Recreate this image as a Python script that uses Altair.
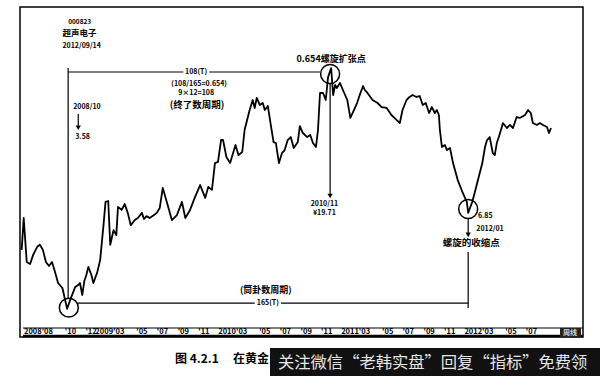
import altair as alt
import pandas as pd

# ---- price series (weekly-ish) ----
dates = [
    "2008-05-09", "2008-05-15", "2008-05-24", "2008-06-03", "2008-06-12", "2008-06-24",
    "2008-07-02", "2008-07-11", "2008-07-20", "2008-07-29", "2008-08-07", "2008-08-16",
    "2008-08-25", "2008-09-07", "2008-09-15", "2008-09-21", "2008-09-30", "2008-10-09",
    "2008-10-15", "2008-10-24", "2008-10-29", "2008-11-05", "2008-11-11", "2008-11-17",
    "2008-11-23", "2008-12-02", "2008-12-08", "2008-12-13", "2008-12-19", "2008-12-28",
    "2009-01-07", "2009-01-13", "2009-01-21", "2009-01-27", "2009-02-06", "2009-02-14",
    "2009-02-19", "2009-03-02", "2009-03-11", "2009-03-20", "2009-03-29", "2009-04-10",
    "2009-04-19", "2009-05-01", "2009-05-07", "2009-05-15", "2009-05-24", "2009-06-06",
    "2009-06-14", "2009-06-23", "2009-07-02", "2009-07-14", "2009-07-29", "2009-08-13",
    "2009-08-28", "2009-09-07", "2009-09-21", "2009-10-06", "2009-10-21", "2009-10-29",
    "2009-11-05", "2009-11-14", "2009-11-25", "2009-12-04", "2009-12-13", "2009-12-22",
    "2009-12-28", "2010-01-07", "2010-01-18", "2010-02-03", "2010-02-12", "2010-02-23",
    "2010-03-02", "2010-03-17", "2010-03-26", "2010-04-01", "2010-04-07", "2010-04-16",
    "2010-04-25", "2010-05-01", "2010-05-10", "2010-05-18", "2010-05-27", "2010-06-03",
    "2010-06-12", "2010-06-21", "2010-06-29", "2010-07-08", "2010-07-17", "2010-07-26",
    "2010-08-07", "2010-08-13", "2010-08-22", "2010-09-04", "2010-09-13", "2010-09-21",
    "2010-09-30", "2010-10-06", "2010-10-12", "2010-10-21", "2010-10-29", "2010-11-05",
    "2010-11-14", "2010-11-20", "2010-11-26", "2010-12-01", "2010-12-10", "2010-12-19",
    "2011-01-01", "2011-01-10", "2011-01-18", "2011-01-30", "2011-02-09", "2011-02-17",
    "2011-02-22", "2011-03-02", "2011-03-17", "2011-04-01", "2011-04-13", "2011-04-28",
    "2011-05-12", "2011-05-21", "2011-06-06", "2011-06-14", "2011-06-26", "2011-07-05",
    "2011-07-14", "2011-07-25", "2011-08-04", "2011-08-13", "2011-08-22", "2011-09-01",
    "2011-09-09", "2011-09-18", "2011-09-24", "2011-09-30", "2011-10-03", "2011-10-09",
    "2011-10-18", "2011-10-24", "2011-11-02", "2011-11-11", "2011-11-25", "2011-12-10",
    "2011-12-22", "2011-12-26", "2012-01-07", "2012-01-15", "2012-01-24", "2012-02-06",
    "2012-02-14", "2012-02-20", "2012-02-28", "2012-03-08", "2012-03-14", "2012-03-20",
    "2012-03-26", "2012-04-04", "2012-04-07", "2012-04-19", "2012-04-28", "2012-05-07",
    "2012-05-18", "2012-05-27", "2012-06-12", "2012-06-21", "2012-06-29", "2012-07-05",
    "2012-07-17", "2012-07-26", "2012-08-04", "2012-08-16", "2012-08-22", "2012-08-28",
]
prices = [
    5.47, 6.85, 5.02, 4.95, 5.28, 5.59,
    5.67, 5.47, 5.02, 4.88, 5.02, 4.68,
    4.33, 4.18, 3.84, 3.61, 3.84, 4.06,
    4.21, 4.27, 4.33, 3.98, 4.39, 4.58,
    4.85, 4.58, 4.33, 4.48, 4.65, 5.09,
    6.51, 7.67, 7.72, 5.67, 6.29, 6.07,
    7.41, 7.25, 7.56, 7.10, 6.51, 6.75,
    6.85, 7.10, 6.80, 6.94, 6.85, 6.99,
    7.10, 7.35, 8.47, 7.67, 6.75, 6.99,
    7.67, 6.85, 7.25, 7.95, 8.64, 8.23,
    7.89, 8.53, 8.35, 10.09, 10.17, 11.87,
    11.87, 10.53, 10.09, 11.46, 10.67, 10.91,
    12.74, 14.67, 15.74, 14.88, 15.97, 15.20,
    15.41, 14.67, 15.09, 13.38, 11.70, 11.62,
    10.09, 10.83, 11.06, 11.87, 12.12, 11.22,
    11.70, 13.10, 12.47, 12.12, 12.30, 11.62,
    11.30, 12.74, 16.54, 16.54, 15.74, 18.52,
    19.71, 16.30, 17.50, 17.13, 17.75, 16.89,
    15.74, 13.87, 14.46, 15.41, 16.54, 17.37,
    16.89, 16.54, 15.74, 15.41, 14.98, 14.88,
    14.16, 13.87, 13.38, 14.67, 15.74, 16.08,
    16.30, 16.08, 16.19, 15.20, 15.41, 14.36,
    14.98, 14.36, 14.67, 14.16, 12.74, 11.30,
    11.46, 11.06, 11.22, 10.09, 8.95, 8.17,
    7.67, 7.10, 7.67, 8.23, 8.95, 10.09,
    11.30, 11.87, 12.12, 10.83, 10.67, 11.62,
    12.12, 13.01, 13.38, 12.92, 13.20, 12.92,
    13.96, 13.87, 14.16, 14.67, 14.36, 13.38,
    13.20, 13.38, 13.20, 13.01, 12.47, 12.92,
]

# ---- time-axis labels ----
tick_dates = [
    "2008-08-01", "2008-10-01", "2008-12-01", "2009-03-01", "2009-05-01", "2009-07-01",
    "2009-09-01", "2009-11-01", "2010-03-01", "2010-05-01", "2010-07-01", "2010-09-01",
    "2010-11-01", "2011-03-01", "2011-05-01", "2011-07-01", "2011-09-01", "2011-11-01",
    "2012-03-01", "2012-05-01", "2012-07-01",
]
tick_labels = [
    "2008'08", "'10", "'12", "2009'03", "'05", "'07",
    "'09", "'11", "2010'03", "'05", "'07", "'09",
    "'11", "2011'03", "'05", "'07", "'09", "'11",
    "2012'03", "'05", "'07",
]

# ---- annotation anchors (date, price level) ----
rule_start = ["2008-09-24", "2009-11-17", "2008-09-24", "2008-10-24", "2010-11-11",
              "2008-10-21", "2010-06-18", "2011-12-26", "2011-12-26"]
rule_end = ["2009-09-01", "2010-10-12", "2008-09-24", "2008-10-24", "2010-11-11",
            "2010-04-01", "2011-12-26", "2011-12-26", "2011-12-26"]
rule_p1 = [19.18, 19.18, 19.71, 14.26, 17.62, 3.76, 3.76, 6.85, 5.39]
rule_p2 = [19.18, 19.18, 3.87, 12.95, 8.00, 3.76, 3.76, 6.08, 3.63]

circle_dates = ["2008-09-26", "2010-11-11", "2011-12-26"]
circle_prices = [3.64, 18.91, 7.30]

arrow_dates = ["2008-10-24", "2010-11-11", "2011-12-26"]
arrow_prices = [12.95, 8.00, 6.08]

left_texts = ["000823", "超声电子", "2012/09/14", "2008/10", "3.58", "6.85", "2012/01"]
left_dates = ["2008-09-24", "2008-09-07", "2008-09-07", "2008-10-09", "2008-10-15",
              "2012-01-24", "2012-01-19"]
left_prices = [27.30, 25.25, 23.10, 14.98, 12.12, 6.94, 6.34]
left_sizes = [6.5, 8.5, 7, 7, 7, 7, 7]

center_texts = ["108(T)", "(108/165=0.654)", "9×12=108", "(终了数周期)", "0.654螺旋扩张点",
                "2010/11", "¥19.71", "螺旋的收缩点", "(筒卦数周期)", "165(T)"]
center_dates = ["2009-10-09", "2009-10-18", "2009-10-09", "2009-10-12", "2010-11-14",
                "2010-10-25", "2010-10-25", "2012-01-04", "2010-05-04", "2010-05-10"]
center_prices = [19.18, 17.62, 16.54, 15.20, 21.02, 7.56, 7.10, 5.74, 4.11, 3.76]
center_sizes = [7, 7, 7, 9.5, 9, 7, 7, 9.5, 9, 7]

caption_parts = ["图 4.2.1", "在黄金"]
watermark = "关注微信“老韩实盘”回复“指标”免费领"
period_label = "周线"

# ---- scales ----
W, H = 563, 330
FONT = "Noto Sans CJK SC"
xs = alt.Scale(type="utc", domain=[alt.DateTime(year=2008, month=5, date=4, utc=True),
                                   alt.DateTime(year=2012, month=12, date=1, utc=True)])
ys = alt.Scale(type="log", domain=[2.959, 30.33])
X = lambda f: alt.X(f, type="temporal", scale=xs, axis=None)
Y = lambda f: alt.Y(f, type="quantitative", scale=ys, axis=None)

series = pd.DataFrame({"date": dates, "price": prices})
line = alt.Chart(series).mark_line(color="black", strokeWidth=1.8, strokeJoin="round").encode(
    x=X("date"), y=Y("price"))

rules_df = pd.DataFrame({"d1": rule_start, "d2": rule_end, "p1": rule_p1, "p2": rule_p2})
rules = alt.Chart(rules_df).mark_rule(color="black", strokeWidth=1.2).encode(
    x=X("d1"), x2="d2:T", y=Y("p1"), y2="p2:Q")

circ_df = pd.DataFrame({"date": circle_dates, "price": circle_prices})
circles = alt.Chart(circ_df).mark_point(shape="circle", filled=False, color="black",
                                        strokeWidth=1.5, size=360, opacity=1).encode(
    x=X("date"), y=Y("price"))

arr_df = pd.DataFrame({"date": arrow_dates, "price": arrow_prices})
arrows = alt.Chart(arr_df).mark_point(shape="triangle-down", filled=True, color="black",
                                      size=28, opacity=1).encode(x=X("date"), y=Y("price"))

lt_df = pd.DataFrame({"t": left_texts, "date": left_dates, "price": left_prices, "fs": left_sizes})
ltext = alt.Chart(lt_df).mark_text(align="left", baseline="middle", font=FONT,
                                   fontWeight="bold", color="black").encode(
    x=X("date"), y=Y("price"), text="t:N", size=alt.Size("fs:Q", scale=None, legend=None))

ct_df = pd.DataFrame({"t": center_texts, "date": center_dates, "price": center_prices,
                      "fs": center_sizes})
ctext = alt.Chart(ct_df).mark_text(align="center", baseline="middle", font=FONT,
                                   fontWeight="bold", color="black").encode(
    x=X("date"), y=Y("price"), text="t:N", size=alt.Size("fs:Q", scale=None, legend=None))

# time-axis band
ticks_df = pd.DataFrame({"date": tick_dates, "label": tick_labels})
ticks_df["long"] = ticks_df["label"].str.len() > 4
short_lab = alt.Chart(ticks_df[~ticks_df["long"]]).mark_text(
    align="center", baseline="middle", font=FONT, fontWeight="bold", fontSize=7.5,
    color="black").encode(x=X("date"), y=alt.value(325), text="label:N")
long_lab = alt.Chart(ticks_df[ticks_df["long"]]).mark_text(
    align="right", baseline="middle", dx=3, font=FONT, fontWeight="bold", fontSize=7.5,
    color="black").encode(x=X("date"), y=alt.value(325), text="label:N")
one = pd.DataFrame({"k": [0]})
band_top = alt.Chart(one).mark_rule(color="black", strokeWidth=1).encode(
    x=alt.value(3), x2=alt.value(W), y=alt.value(321))
band_bot = alt.Chart(one).mark_rule(color="black", strokeWidth=2.5).encode(
    x=alt.value(3), x2=alt.value(W), y=alt.value(329))
per_box = alt.Chart(one).mark_rect(color="#222").encode(
    x=alt.value(540), x2=alt.value(561), y=alt.value(321), y2=alt.value(330))
per_txt = alt.Chart(pd.DataFrame({"t": [period_label]})).mark_text(
    align="center", baseline="middle", font=FONT, fontSize=7, fontWeight="bold",
    color="#dddddd").encode(x=alt.value(550), y=alt.value(325.5), text="t:N")

# caption and overlay strip
cap1 = alt.Chart(pd.DataFrame({"t": [caption_parts[0]]})).mark_text(
    align="left", baseline="middle", font=FONT, fontSize=12, fontWeight="bold",
    color="black").encode(x=alt.value(155), y=alt.value(352), text="t:N")
cap2 = alt.Chart(pd.DataFrame({"t": [caption_parts[1]]})).mark_text(
    align="left", baseline="middle", font=FONT, fontSize=12, fontWeight="bold",
    color="black").encode(x=alt.value(213), y=alt.value(352), text="t:N")
wm_rect = alt.Chart(one).mark_rect(color="#111111").encode(
    x=alt.value(250), x2=alt.value(580), y=alt.value(341), y2=alt.value(369))
wm_text = alt.Chart(pd.DataFrame({"t": [watermark]})).mark_text(
    align="left", baseline="middle", font=FONT, fontSize=16.3, color="#e6e6e6").encode(
    x=alt.value(258), y=alt.value(356), text="t:N")

chart = alt.layer(
    line, rules, circles, arrows, ltext, ctext,
    band_top, band_bot, short_lab, long_lab, per_box, per_txt,
    cap1, cap2, wm_rect, wm_text,
).properties(
    width=W, height=H,
    padding={"left": 20, "top": 7, "right": 17, "bottom": 39},
    autosize=alt.AutoSizeParams(type="none"),
    background="white",
).configure_view(stroke="black", strokeWidth=1.5)

chart.save("out.html", embed_options={"renderer": "svg", "actions": False})
